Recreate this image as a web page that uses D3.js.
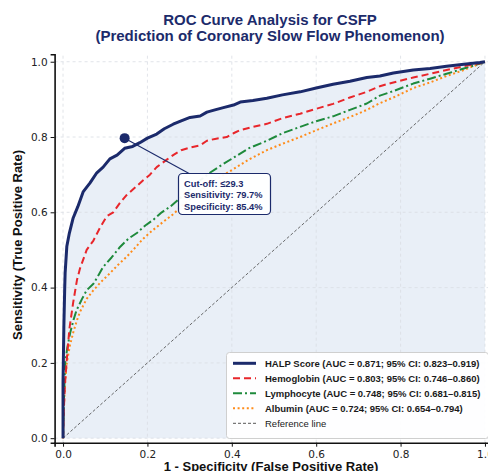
<!DOCTYPE html>
<html><head><meta charset="utf-8">
<script src="https://cdn.jsdelivr.net/npm/d3@7"></script>
<style>body{margin:0;background:#fff}</style>
</head><body><svg id="c" width="488" height="471"></svg>
<script>
const titleLines = ["ROC Curve Analysis for CSFP", "(Prediction of Coronary Slow Flow Phenomenon)"];
const xLabel = "1 - Specificity (False Positive Rate)";
const yLabel = "Sensitivity (True Positive Rate)";
const xTicks = [0, 0.2, 0.4, 0.6, 0.8, 1.0];
const yTicks = [0, 0.2, 0.4, 0.6, 0.8, 1.0];

const seriesNames = ["HALP Score (AUC = 0.871; 95% CI: 0.823\u20130.919)",
  "Hemoglobin (AUC = 0.803; 95% CI: 0.746\u20130.860)",
  "Lymphocyte (AUC = 0.748; 95% CI: 0.681\u20130.815)",
  "Albumin (AUC = 0.724; 95% CI: 0.654\u20130.794)"];
const refName = "Reference line";

const halpFpr = [0,0,0.002,0.004,0.005,0.009,0.015,0.024,0.035,0.048,0.064,0.08,0.095,0.111,0.128,0.146,0.165,0.182,0.2,0.222,0.24,0.261,0.28,0.301,0.325,0.341,0.36,0.38,0.404,0.42,0.45,0.483,0.52,0.562,0.6,0.64,0.68,0.72,0.751,0.783,0.83,0.87,0.909,0.95,0.988,1];
const halpTpr = [0,0.15,0.3,0.4,0.44,0.51,0.545,0.585,0.615,0.655,0.678,0.705,0.72,0.742,0.752,0.77,0.775,0.785,0.797,0.808,0.822,0.834,0.843,0.852,0.856,0.866,0.872,0.878,0.885,0.893,0.897,0.903,0.912,0.92,0.93,0.94,0.948,0.958,0.962,0.97,0.978,0.982,0.988,0.993,0.998,1];

const hgbFpr = [0,0.002,0.005,0.009,0.015,0.024,0.033,0.04,0.056,0.072,0.088,0.104,0.119,0.135,0.15,0.17,0.19,0.206,0.222,0.246,0.261,0.28,0.301,0.325,0.341,0.36,0.388,0.404,0.419,0.443,0.483,0.52,0.562,0.6,0.64,0.68,0.72,0.751,0.783,0.83,0.87,0.909,0.95,0.988,1];
const hgbTpr = [0,0.08,0.15,0.21,0.29,0.36,0.42,0.45,0.5,0.525,0.56,0.59,0.6,0.625,0.645,0.665,0.685,0.7,0.72,0.74,0.752,0.765,0.772,0.778,0.79,0.795,0.8,0.81,0.818,0.825,0.835,0.85,0.862,0.875,0.888,0.905,0.92,0.935,0.945,0.958,0.968,0.978,0.988,0.996,1];

const lymFpr = [0,0.002,0.005,0.01,0.017,0.025,0.032,0.045,0.056,0.072,0.085,0.095,0.115,0.135,0.155,0.175,0.195,0.214,0.234,0.254,0.28,0.3,0.325,0.348,0.375,0.404,0.44,0.483,0.52,0.562,0.6,0.64,0.68,0.72,0.751,0.783,0.83,0.87,0.909,0.95,0.988,1];
const lymTpr = [0,0.1,0.2,0.24,0.28,0.315,0.34,0.37,0.393,0.41,0.435,0.455,0.48,0.508,0.53,0.545,0.565,0.58,0.6,0.615,0.64,0.66,0.685,0.705,0.725,0.745,0.77,0.79,0.81,0.827,0.842,0.855,0.872,0.889,0.91,0.922,0.942,0.955,0.968,0.982,0.995,1];

const albFpr = [0,0.002,0.005,0.009,0.016,0.024,0.032,0.04,0.056,0.072,0.09,0.111,0.13,0.151,0.17,0.19,0.21,0.23,0.261,0.29,0.325,0.36,0.404,0.44,0.483,0.52,0.562,0.6,0.64,0.68,0.72,0.751,0.783,0.83,0.87,0.909,0.95,0.988,1];
const albTpr = [0,0.08,0.15,0.2,0.245,0.28,0.31,0.335,0.37,0.393,0.415,0.438,0.46,0.482,0.505,0.53,0.55,0.568,0.595,0.625,0.655,0.685,0.715,0.74,0.765,0.782,0.8,0.818,0.836,0.853,0.872,0.89,0.905,0.93,0.945,0.962,0.978,0.995,1];

const refFpr = [0, 1];
const refTpr = [0, 1];

const cutoffPoint = [0.146, 0.797];
const cutoffLines = ["Cut-off: \u226429.3", "Sensitivity: 79.7%", "Specificity: 85.4%"];

const colors = ["#1b2a6b", "#e8262b", "#1e8a3c", "#ff8c1a"];
const dashes = [null, "7,4", "9,3,2,3", "2,2.6"];
const widths = [3, 2, 2, 2];

const fprs = [halpFpr, hgbFpr, lymFpr, albFpr];
const tprs = [halpTpr, hgbTpr, lymTpr, albTpr];
const series = seriesNames.map((n, i) => ({name: n, color: colors[i], dash: dashes[i], width: widths[i],
  pts: fprs[i].map((f, j) => [f, tprs[i][j]])}));

const svg = d3.select("#c");
const x = d3.scaleLinear().domain([-0.02, 1.02]).range([54.6, 493.4]);
const y = d3.scaleLinear().domain([-0.012, 1.02]).range([442.7, 54.2]);

// fill under HALP curve
svg.append("path").datum(series[0].pts)
  .attr("d", d3.area().x(d => x(d[0])).y0(y(0)).y1(d => y(d[1])))
  .attr("fill", "#e9eff7");

// grid
const g = svg.append("g");
xTicks.forEach(t => g.append("line").attr("x1", x(t)).attr("x2", x(t)).attr("y1", y(-0.012)).attr("y2", y(1.02))
  .attr("stroke", "#d9dde3").attr("stroke-width", 0.8).attr("stroke-dasharray", "3,3"));
yTicks.forEach(t => g.append("line").attr("y1", y(t)).attr("y2", y(t)).attr("x1", x(-0.02)).attr("x2", x(1.02))
  .attr("stroke", "#d9dde3").attr("stroke-width", 0.8).attr("stroke-dasharray", "3,3"));

// reference line
const line = d3.line().x(d => x(d[0])).y(d => y(d[1]));
svg.append("path").datum(refFpr.map((f, i) => [f, refTpr[i]])).attr("d", line)
  .attr("fill", "none").attr("stroke", "#444").attr("stroke-width", 0.8).attr("stroke-dasharray", "3,2");

// curves (draw back to front)
series.slice().reverse().forEach(s => {
  svg.append("path").datum(s.pts).attr("d", line).attr("fill", "none")
    .attr("stroke", s.color).attr("stroke-width", s.width)
    .attr("stroke-dasharray", s.dash).attr("stroke-linejoin", "round");
});

// axes
const xa = svg.append("g").attr("transform", `translate(0,${y(-0.012)})`)
  .call(d3.axisBottom(x).tickValues(xTicks).tickFormat(d3.format(".1f")).tickSizeOuter(0).tickSize(4));
const ya = svg.append("g").attr("transform", `translate(${x(-0.02)},0)`)
  .call(d3.axisLeft(y).tickValues(yTicks).tickFormat(d3.format(".1f")).tickSizeOuter(0).tickSize(4));
[xa, ya].forEach(a => {
  a.select(".domain").attr("stroke", "#111").attr("stroke-width", 1.6);
  a.selectAll(".tick line").attr("stroke", "#111").attr("stroke-width", 1);
  a.selectAll(".tick text").attr("font-family", "DejaVu Sans, sans-serif").attr("font-size", 10.5).attr("fill", "#222");
});
xa.selectAll(".tick text").attr("dy", "0.78em");

// cutoff annotation
svg.append("line").attr("x1", x(cutoffPoint[0])).attr("y1", y(cutoffPoint[1])).attr("x2", 190).attr("y2", 174)
  .attr("stroke", "#1b2a6b").attr("stroke-width", 1.1);
svg.append("circle").attr("cx", x(cutoffPoint[0])).attr("cy", y(cutoffPoint[1])).attr("r", 5).attr("fill", "#1b2a6b");
svg.append("rect").attr("x", 178.5).attr("y", 173.5).attr("width", 92).attr("height", 41).attr("rx", 4)
  .attr("fill", "#fff").attr("fill-opacity", 0.95).attr("stroke", "#1b2a6b").attr("stroke-width", 1.2);
cutoffLines.forEach((t, i) => svg.append("text").attr("x", 184).attr("y", 186.5 + i * 11.7).text(t)
  .attr("font-family", "Liberation Sans, Arial, sans-serif").attr("font-size", 9.3).attr("font-weight", "bold").attr("fill", "#1b2a6b"));

// legend
const lg = svg.append("g");
lg.append("rect").attr("x", 226.5).attr("y", 352.5).attr("width", 262).attr("height", 86).attr("rx", 3)
  .attr("fill", "#fff").attr("fill-opacity", 0.92).attr("stroke", "#cfcfcf").attr("stroke-width", 1);
const legItems = series.map(s => ({name: s.name, color: s.color, dash: s.dash, width: s.width, bold: true}))
  .concat([{name: refName, color: "#444", dash: "3,2", width: 0.9, bold: false}]);
legItems.forEach((it, i) => {
  const cy = 363.3 + i * 15;
  lg.append("line").attr("x1", 233).attr("x2", 256).attr("y1", cy).attr("y2", cy)
    .attr("stroke", it.color).attr("stroke-width", it.width).attr("stroke-dasharray", it.dash);
  lg.append("text").attr("x", 265).attr("y", cy + 3.5).text(it.name)
    .attr("font-family", "Liberation Sans, Arial, sans-serif").attr("font-size", 9.5)
    .attr("font-weight", it.bold ? "bold" : "normal").attr("fill", "#1a1a1a");
});

// titles and labels
titleLines.forEach((t, i) => svg.append("text").attr("x", 270).attr("y", 25 + i * 16).attr("text-anchor", "middle").text(t)
  .attr("font-family", "Liberation Sans, Arial, sans-serif").attr("font-size", 15).attr("font-weight", "bold").attr("fill", "#1c2b6b"));
svg.append("text").attr("x", 271).attr("y", 470.5).attr("text-anchor", "middle").text(xLabel)
  .attr("font-family", "Liberation Sans, Arial, sans-serif").attr("font-size", 13).attr("font-weight", "bold").attr("fill", "#111");
svg.append("text").attr("transform", "translate(22,245) rotate(-90)").attr("text-anchor", "middle").text(yLabel)
  .attr("font-family", "Liberation Sans, Arial, sans-serif").attr("font-size", 13).attr("font-weight", "bold").attr("fill", "#111");
</script></body></html>
